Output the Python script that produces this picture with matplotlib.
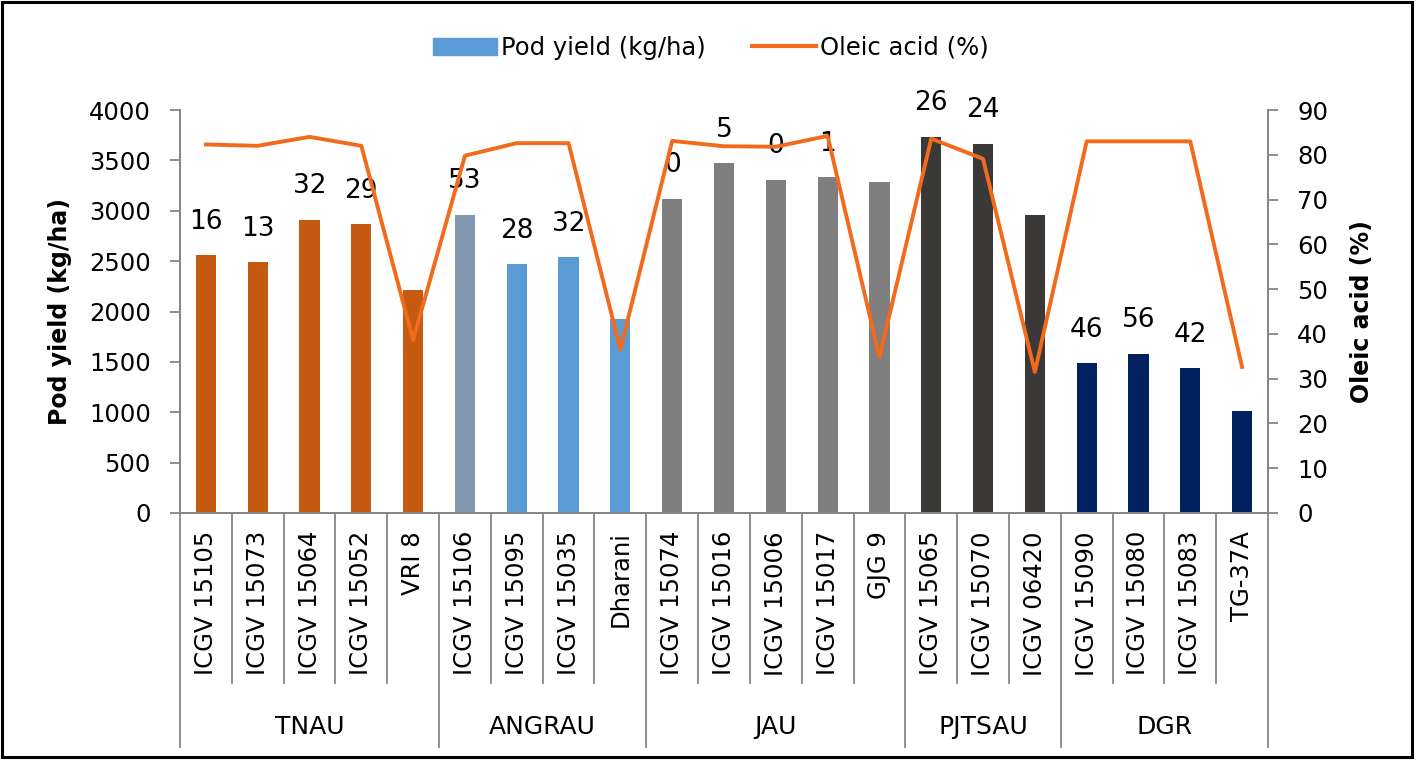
import matplotlib.pyplot as plt
import matplotlib.transforms as mtransforms
from matplotlib.patches import Patch, Rectangle
from matplotlib.lines import Line2D
import numpy as np

cultivars = ['ICGV 15105', 'ICGV 15073', 'ICGV 15064', 'ICGV 15052', 'VRI 8',
             'ICGV 15106', 'ICGV 15095', 'ICGV 15035', 'Dharani',
             'ICGV 15074', 'ICGV 15016', 'ICGV 15006', 'ICGV 15017', 'GJG 9',
             'ICGV 15065', 'ICGV 15070', 'ICGV 06420',
             'ICGV 15090', 'ICGV 15080', 'ICGV 15083', 'TG-37A']
groups = ['TNAU', 'ANGRAU', 'JAU', 'PJTSAU', 'DGR']
group_sizes = [5, 4, 5, 3, 4]

pod_yield = [2560, 2490, 2910, 2865, 2210,
             2960, 2470, 2540, 1930,
             3120, 3475, 3310, 3335, 3285,
             3735, 3665, 2960,
             1485, 1580, 1440, 1015]
oleic = [82.3, 82.0, 84.0, 82.0, 38.6,
         79.8, 82.6, 82.6, 36.5,
         83.1, 81.9, 81.8, 84.2, 34.8,
         83.6, 79.1, 31.5,
         83.0, 83.0, 83.0, 32.6]
bar_labels = ['16', '13', '32', '29', '',
              '53', '28', '32', '',
              '0', '5', '0', '1', '',
              '26', '24', '',
              '46', '56', '42', '']

bar_colors = ['#C55A11'] * 5 + ['#8497B0'] + ['#5B9BD5'] * 3 + ['#7F7F7F'] * 5 \
    + ['#3B3838'] * 3 + ['#002060'] * 4
line_color = '#F26A1B'
axis_grey = '#868686'

plt.rcParams['font.family'] = 'DejaVu Sans'

W, H = 1417, 761
fig = plt.figure(figsize=(W / 100, H / 100), dpi=100)
# axes box in pixels: x 180..1268, y 110..513
ax = fig.add_axes([180 / W, (H - 513) / H, (1268 - 180) / W, (513 - 110) / H])
ax_h = 403.0

x = np.arange(len(cultivars))
ax.bar(x, pod_yield, width=0.39, color=bar_colors, zorder=2)
ax.set_xlim(-0.5, len(cultivars) - 0.5)
ax.set_ylim(0, 4000)
ax.set_yticks(np.arange(0, 4001, 500))
ax.set_xticks([])

for i, lab in enumerate(bar_labels):
    if lab:
        ax.annotate(lab, (x[i], pod_yield[i]), xytext=(0, 24), textcoords='offset points',
                    ha='center', va='center', fontsize=19, zorder=5)

ax2 = ax.twinx()
ax2.plot(x, oleic, color=line_color, lw=2.8, zorder=4)
ax2.set_ylim(0, 90)
ax2.set_yticks(np.arange(0, 91, 10))

for a in (ax, ax2):
    a.spines['top'].set_visible(False)
    for s in ('left', 'right', 'bottom'):
        a.spines[s].set_color(axis_grey)
        a.spines[s].set_linewidth(1.3)
    a.tick_params(axis='y', direction='out', length=7, width=1.3, color=axis_grey,
                  labelsize=17.5, pad=14)

ax.set_ylabel('Pod yield (kg/ha)', fontsize=17, fontweight='bold', labelpad=12)
ax2.set_ylabel('Oleic acid (%)', fontsize=17, fontweight='bold', labelpad=16)

# category axis: separators, cultivar names, group names
trans = mtransforms.blended_transform_factory(ax.transData, ax.transAxes)
bounds = np.concatenate([[0], np.cumsum(group_sizes)]) - 0.5
for b in np.arange(-0.5, len(cultivars)):
    depth = 234 if b in bounds else 170
    ax.plot([b, b], [0, -depth / ax_h], transform=trans, color=axis_grey,
            lw=1.3, clip_on=False)

for i, name in enumerate(cultivars):
    ax.text(x[i], -18 / ax_h, name, transform=trans, rotation=90, ha='center',
            va='top', fontsize=17.5)

for g, name in enumerate(groups):
    mid = (bounds[g] + bounds[g + 1]) / 2
    ax.text(mid, -214 / ax_h, name, transform=trans, ha='center', va='center',
            fontsize=18)

handles = [Patch(facecolor='#5B9BD5', edgecolor='#5B9BD5'),
           Line2D([0], [0], color=line_color, lw=3)]
fig.legend(handles, ['Pod yield (kg/ha)', 'Oleic acid (%)'], loc='center',
           bbox_to_anchor=(0.502, 1 - 48 / H), ncol=2, frameon=False, fontsize=17.5,
           handlelength=2.6, handleheight=0.75, handletextpad=0.2, columnspacing=1.9)

fig.patches.append(Rectangle((2 / W, 4 / H), 1410 / W, 755 / H, transform=fig.transFigure,
                             fill=False, edgecolor='black', linewidth=2.2))

fig.savefig('out.png', dpi=100)
